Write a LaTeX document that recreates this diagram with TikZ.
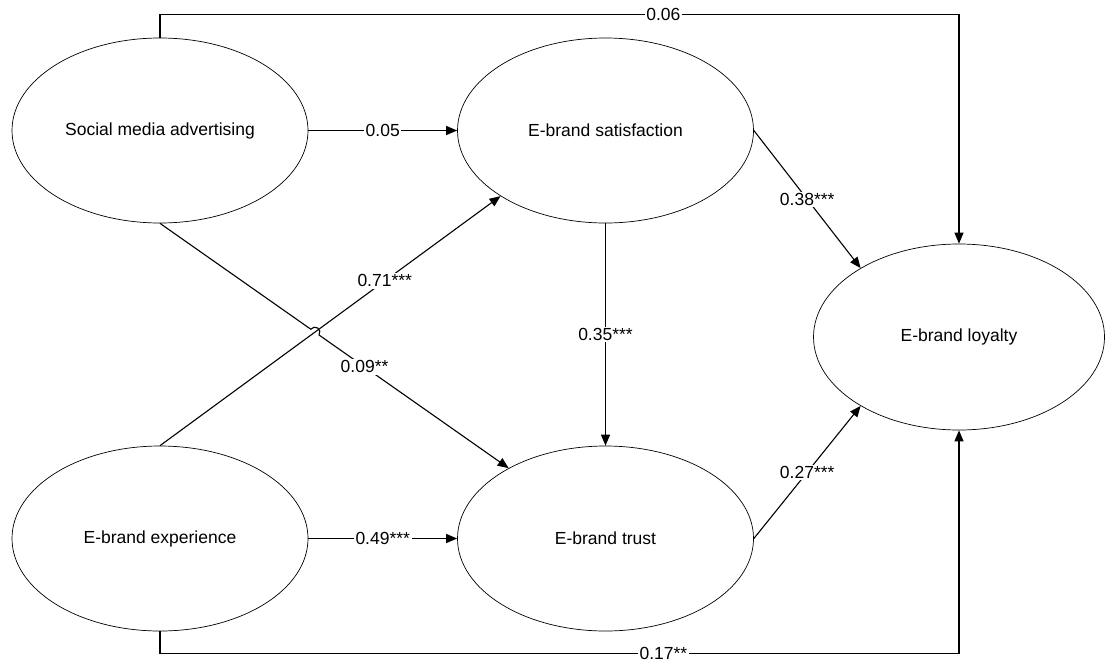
\documentclass[tikz,border=0pt]{standalone}
\usepackage{fontspec}
\setmainfont{Liberation Sans}
\usetikzlibrary{arrows.meta,calc,intersections,shapes.geometric}
\tikzset{
  construct/.style={draw, ellipse, line width=0.7pt, minimum width=296pt, minimum height=185pt, inner sep=0pt},
  link/.style={line width=1.1pt, -{Triangle[length=11pt,width=9pt]}},
  coef/.style={fill=white, inner sep=1.5pt},
}
\begin{document}
\begin{tikzpicture}[x=1pt,y=1pt,font=\fontsize{17.5}{21}\selectfont]
  \useasboundingbox (0,0) rectangle (1105,-662);

  % constructs
  \node[construct] (sma) at (160,-130.5) {Social media advertising};
  \node[construct] (esat) at (605.5,-130.5) {E-brand satisfaction};
  \node[construct] (eexp) at (160,-538.5) {E-brand experience};
  \node[construct] (etr) at (605.5,-538.5) {E-brand trust};
  \node[construct,minimum width=291pt,minimum height=186pt] (eloy) at (959,-337) {E-brand loyalty};

  % paths
  \draw[link] (sma) -- node[coef] {0.05} (esat);
  \draw[link] (eexp) -- node[coef] {0.49***} (etr);
  \draw[link] (esat) -- node[coef] {0.35***} (etr);
  \draw[link] (esat.east) -- node[coef] {0.38***} (eloy.145);
  \draw[link] (etr.east) -- node[coef] {0.27***} (eloy.215);
  \draw[link] (eexp.north) -- node[coef,pos=0.66] {0.71***} (esat.212);
  \draw[link] (sma.north) -- ++(0,23) -| node[coef,pos=0.315] {0.06} (eloy.north);
  \draw[link] (eexp.south) -- ++(0,-22) -| node[coef,pos=0.315] {0.17**} (eloy.south);

  % hop where the two diagonals cross
  \path[name path=expsat] (eexp.north) -- (esat.212);
  \path[name path=smatr] (sma.south) -- (etr.144);
  \path[name intersections={of=expsat and smatr,by=hop}];
  \draw[link] let \p1=($(etr.144)-(sma.south)$), \n1={atan2(\y1,\x1)} in
    (sma.south) -- ($(hop)!5pt!(sma.south)$)
    arc[start angle=\n1+180, end angle=\n1, radius=5pt]
    -- node[coef,pos=0.24] {0.09**} (etr.144);
\end{tikzpicture}
\end{document}
